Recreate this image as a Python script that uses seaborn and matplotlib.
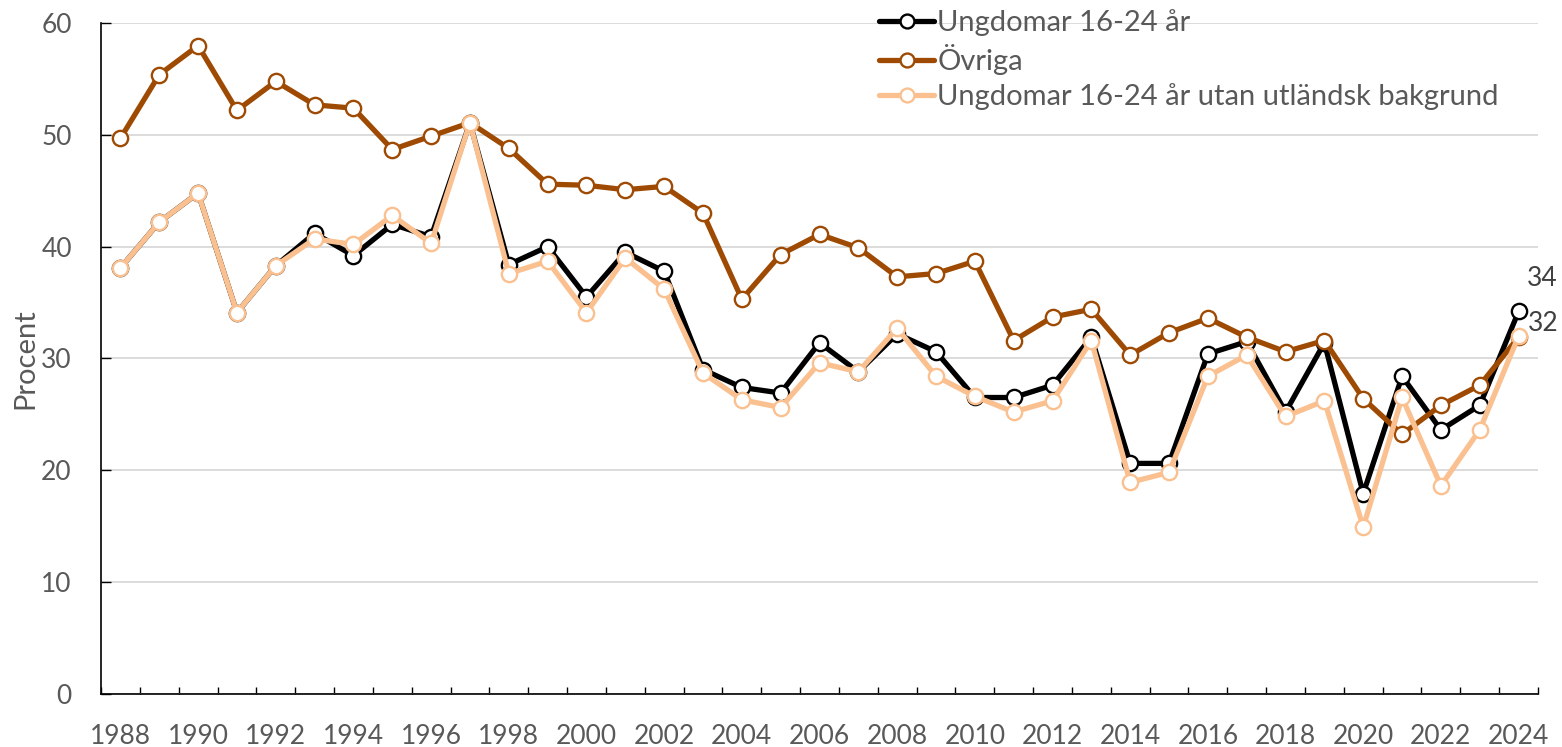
import matplotlib
matplotlib.use("Agg")
import matplotlib.pyplot as plt
import seaborn as sns
import pandas as pd
from matplotlib.lines import Line2D
from matplotlib.ticker import FixedLocator

years = list(range(1988, 2025))

ungdomar = [38.1, 42.2, 44.8, 34.1, 38.3, 41.2, 39.2, 42.0, 40.9, 51.1,
            38.4, 40.0, 35.5, 39.5, 37.8, 29.0, 27.4, 26.9, 31.4, 28.8,
            32.2, 30.6, 26.5, 26.5, 27.6, 31.9, 20.6, 20.6, 30.4, 31.5,
            25.2, 31.4, 17.9, 28.4, 23.6, 25.8, 34.2]

ovriga = [49.7, 55.4, 58.0, 52.2, 54.8, 52.7, 52.4, 48.7, 49.9, 51.1,
          48.8, 45.6, 45.5, 45.1, 45.4, 43.0, 35.3, 39.3, 41.1, 39.9,
          37.3, 37.6, 38.7, 31.6, 33.7, 34.4, 30.3, 32.3, 33.6, 31.9,
          30.6, 31.6, 26.4, 23.2, 25.8, 27.6, 31.9]

utan_utl = [38.1, 42.2, 44.8, 34.1, 38.3, 40.7, 40.2, 42.8, 40.3, 51.1,
            37.6, 38.7, 34.1, 39.0, 36.2, 28.7, 26.3, 25.6, 29.6, 28.8,
            32.7, 28.4, 26.6, 25.2, 26.2, 31.6, 18.9, 19.8, 28.4, 30.3,
            24.8, 26.2, 14.9, 26.5, 18.6, 23.6, 32.0]

series_names = ["Ungdomar 16-24 år", "Övriga", "Ungdomar 16-24 år utan utländsk bakgrund"]
series_values = [ungdomar, ovriga, utan_utl]
series_colors = ["#000000", "#9E4A02", "#FAC090"]
end_labels = ["34", "32"]

yticks = [0, 10, 20, 30, 40, 50, 60]

sns.set_theme(style="white")
plt.rcParams["font.family"] = ["Lato", "DejaVu Sans"]

TXT = "#595959"
FS = 19

fig = plt.figure(figsize=(15.62, 7.47), dpi=100)
ax = fig.add_axes([101 / 1562, 1 - 693.5 / 747, (1538 - 101) / 1562, (693.5 - 23.3) / 747])

rows = []
for name, vals in zip(series_names, series_values):
    for i, (yr, v) in enumerate(zip(years, vals)):
        rows.append({"serie": name, "pos": i, "year": yr, "value": v})
df = pd.DataFrame(rows)

LW = 3.8
MS = 11
MEW = 1.7

draw_order = [1, 0, 2]
for k in draw_order:
    name = series_names[k]
    sub = df[df["serie"] == name]
    sns.lineplot(data=sub, x="pos", y="value", ax=ax, color=series_colors[k],
                 linewidth=LW, marker="o", markersize=MS,
                 markerfacecolor="white", markeredgecolor=series_colors[k],
                 markeredgewidth=MEW, zorder=3 + k, legend=False, label=name)

ax.set_xlim(-0.5, len(years) - 0.5)
ax.set_ylim(0, 60)
ax.set_yticks(yticks)
ax.set_yticklabels([str(t) for t in yticks])
ax.set_xticks(list(range(0, len(years), 2)))
ax.set_xticklabels([str(years[i]) for i in range(0, len(years), 2)])
ax.xaxis.set_minor_locator(FixedLocator([i - 0.5 for i in range(len(years) + 1)]))

ax.grid(axis="y", color="#D9D9D9", linewidth=1.3)
ax.set_axisbelow(True)
for s in ["top", "right"]:
    ax.spines[s].set_visible(False)
for s in ["left", "bottom"]:
    ax.spines[s].set_color("#000000")
    ax.spines[s].set_linewidth(1.2)

ax.tick_params(axis="x", which="major", length=0, pad=22, labelsize=FS, labelcolor=TXT)
ax.tick_params(axis="x", which="minor", direction="in", length=5, width=1.0, color="#000000", bottom=True)
ax.tick_params(axis="y", which="major", direction="in", length=7, width=1.0, color="#000000",
               pad=21, labelsize=FS, labelcolor=TXT, left=True)

ax.set_xlabel("")
ax.set_ylabel("Procent", fontsize=21, color=TXT, labelpad=2)

# end-of-line value labels
last = len(years) - 1
ax.annotate(end_labels[0], xy=(last, ungdomar[-1]), xytext=(6, 24), textcoords="offset points",
            fontsize=FS, color="#404040", va="center", ha="left", annotation_clip=False)
ax.annotate(end_labels[1], xy=(last, utan_utl[-1]), xytext=(7, 9), textcoords="offset points",
            fontsize=FS, color="#404040", va="center", ha="left", annotation_clip=False)

handles = [Line2D([0], [0], color=c, linewidth=LW, marker="o", markersize=MS - 1,
                  markerfacecolor="white", markeredgecolor=c, markeredgewidth=MEW)
           for c in series_colors]
fig.legend(handles, series_names, loc="upper left", bbox_to_anchor=(876 / 1562, 1 - 6 / 747),
           frameon=False, fontsize=21, labelcolor=TXT, handlelength=1.9, handletextpad=0.1,
           labelspacing=0.28, borderpad=0.1, borderaxespad=0)

fig.savefig("out.png", dpi=100)
